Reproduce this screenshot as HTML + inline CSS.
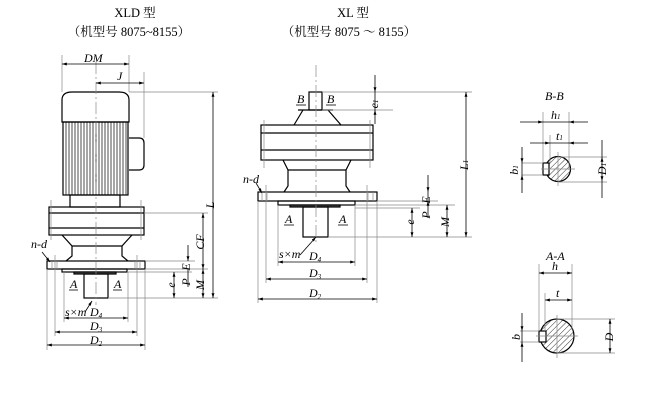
<!DOCTYPE html>
<html><head><meta charset="utf-8"><style>
body{margin:0;background:#fff}
svg{display:block}
text{font-family:"Liberation Serif","Noto Serif CJK SC",serif;fill:#000}
.i{font-style:italic;font-size:12px}
</style></head><body>
<svg width="650" height="412" viewBox="0 0 650 412" xmlns="http://www.w3.org/2000/svg">
<defs>
<marker id="a" viewBox="0 0 10 10" refX="10" refY="5" markerWidth="6" markerHeight="6" orient="auto-start-reverse"><path d="M0,2 L10,5 L0,8z" fill="#000"/></marker>
<pattern id="h" width="4" height="4" patternUnits="userSpaceOnUse" patternTransform="rotate(45)"><line x1="0" y1="0" x2="0" y2="4" stroke="#000" stroke-width="0.8"/></pattern>
</defs>
<g font-size="12.5">
<text x="135" y="17" text-anchor="middle">XLD 型</text>
<text x="129" y="36" text-anchor="middle">（机型号 8075~8155）</text>
<text x="353" y="17" text-anchor="middle">XL 型</text>
<text x="349" y="36" text-anchor="middle">（机型号 8075 ～ 8155）</text>
</g>

<!-- LEFT XLD -->
<g fill="none" stroke="#000" stroke-width="1.2">
<path d="M62,122 L62,100 Q62,92 72,92 L119,92 Q129,92 129,100 L129,122 Z"/>
<rect x="63" y="122" width="65" height="73"/>
<path d="M129,138 L139,138 Q144,138 144,143 L144,165 Q144,170 139,170 L129,170"/>
<rect x="70" y="195" width="50" height="12"/>
<rect x="49" y="207" width="95" height="28"/>
<line x1="49" y1="213" x2="144" y2="213"/><line x1="49" y1="228" x2="144" y2="228"/>
<path d="M62,235 L72,246 L72,256 L66,261 M132,235 L122,246 L122,256 L128,261"/>
<line x1="72" y1="246" x2="122" y2="246"/>
<rect x="47" y="261" width="98" height="8"/>
<rect x="62" y="269" width="65" height="3"/>
<rect x="74" y="272" width="42" height="2" fill="#555"/>
<rect x="84" y="274" width="24" height="24"/>
</g>
<g stroke="#000" stroke-width="0.7">
<path d="M66,122V195M69,122V195M72,122V195M75,122V195M78,122V195M81,122V195M84,122V195M87,122V195M90,122V195M93,122V195M96,122V195M99,122V195M102,122V195M105,122V195M108,122V195M111,122V195M114,122V195M117,122V195M120,122V195M123,122V195M126,122V195"/>
</g>
<g stroke="#888" stroke-width="0.7" fill="none">
<line x1="96" y1="62" x2="96" y2="305" stroke-dasharray="12,3,2,3"/>
<line x1="62" y1="55" x2="62" y2="92"/><line x1="129" y1="55" x2="129" y2="92"/>
<line x1="144" y1="72" x2="144" y2="138"/>
<line x1="129" y1="92" x2="218" y2="92"/>
<line x1="144" y1="213" x2="208" y2="213"/>
<line x1="145" y1="261" x2="195" y2="261"/>
<line x1="145" y1="269" x2="208" y2="269"/>
<line x1="127" y1="272" x2="192" y2="272"/>
<line x1="108" y1="298" x2="218" y2="298"/>
<line x1="64" y1="272" x2="64" y2="322"/><line x1="128" y1="272" x2="128" y2="322"/>
<line x1="55" y1="255" x2="55" y2="336"/><line x1="137" y1="255" x2="137" y2="336"/>
<line x1="47" y1="269" x2="47" y2="350"/><line x1="145" y1="269" x2="145" y2="350"/>
<line x1="52" y1="261" x2="52" y2="269"/><line x1="57" y1="261" x2="57" y2="269"/>
<line x1="135" y1="261" x2="135" y2="269"/><line x1="140" y1="261" x2="140" y2="269"/>
<line x1="51" y1="200" x2="51" y2="240"/><line x1="141" y1="200" x2="141" y2="240"/>
</g>
<g stroke="#000" stroke-width="0.8" fill="none" marker-start="url(#a)" marker-end="url(#a)">
<line x1="62" y1="64" x2="129" y2="64"/>
<line x1="96" y1="83" x2="144" y2="83"/>
<line x1="213" y1="92" x2="213" y2="298"/>
<line x1="203" y1="213" x2="203" y2="269"/>
<line x1="203" y1="269" x2="203" y2="298"/>
<line x1="174" y1="272" x2="174" y2="298"/>
<line x1="64" y1="318" x2="128" y2="318"/>
<line x1="55" y1="332" x2="137" y2="332"/>
<line x1="47" y1="345" x2="145" y2="345"/>
</g>
<g stroke="#000" stroke-width="0.8">
<line x1="188" y1="245" x2="188" y2="261" marker-end="url(#a)"/>
<line x1="188" y1="272" x2="188" y2="287"/>
<line x1="188" y1="269" x2="188" y2="272"/>
<line x1="92" y1="301" x2="85" y2="312" marker-start="url(#a)"/>
<line x1="42" y1="252" x2="50" y2="262" marker-end="url(#a)"/>
</g>
<g class="i">
<text x="84" y="62">DM</text><text x="117" y="80">J</text>
<text x="214" y="205" transform="rotate(-90 214 205)" text-anchor="middle">L</text>
<text x="204" y="242" transform="rotate(-90 204 242)" text-anchor="middle">CF</text>
<text x="190" y="267" transform="rotate(-90 190 267)" text-anchor="middle">E</text>
<text x="190" y="282" transform="rotate(-90 190 282)" text-anchor="middle">P</text>
<text x="204" y="285" transform="rotate(-90 204 285)" text-anchor="middle">M</text>
<text x="175" y="285" transform="rotate(-90 175 285)" text-anchor="middle">e</text>
<text x="31" y="248">n-d</text>
<text x="70" y="288">A</text><text x="114" y="288">A</text>
<text x="65" y="316">s×m</text><text x="90" y="316">D<tspan font-size="7" dy="2">4</tspan></text>
<text x="90" y="330">D<tspan font-size="7" dy="2">3</tspan></text>
<text x="90" y="344">D<tspan font-size="7" dy="2">2</tspan></text>
</g>
<g stroke="#000" stroke-width="0.8"><line x1="69" y1="290" x2="78" y2="290"/><line x1="113" y1="290" x2="122" y2="290"/></g>

<!-- MIDDLE XL -->
<g fill="none" stroke="#000" stroke-width="1.2">
<rect x="309" y="92" width="13" height="18"/>
<path d="M303,110 L294,125 M328,110 L341,125 M298,110 L333,110"/>
<rect x="261" y="125" width="112" height="35"/>
<line x1="261" y1="133" x2="373" y2="133"/><line x1="261" y1="150" x2="373" y2="150"/>
<path d="M283,160 L288,170 L288,186 L284,192 M351,160 L346,170 L346,186 L350,192"/>
<line x1="288" y1="170" x2="346" y2="170"/>
<rect x="258" y="192" width="119" height="9"/>
<rect x="278" y="201" width="77" height="4"/>
<rect x="290" y="205" width="50" height="2" fill="#555"/>
<rect x="303" y="207" width="25" height="30"/>
</g>
<g stroke="#888" stroke-width="0.7" fill="none">
<line x1="316" y1="65" x2="316" y2="245" stroke-dasharray="12,3,2,3"/>
<line x1="322" y1="92" x2="472" y2="92"/>
<line x1="322" y1="110" x2="393" y2="110"/>
<line x1="377" y1="201" x2="438" y2="201"/>
<line x1="355" y1="205" x2="455" y2="205"/>
<line x1="355" y1="208" x2="420" y2="208"/>
<line x1="328" y1="237" x2="472" y2="237"/>
<line x1="278" y1="205" x2="278" y2="266"/><line x1="355" y1="205" x2="355" y2="266"/>
<line x1="266" y1="185" x2="266" y2="283"/><line x1="367" y1="185" x2="367" y2="283"/>
<line x1="258" y1="201" x2="258" y2="303"/><line x1="377" y1="201" x2="377" y2="303"/>
<line x1="264" y1="120" x2="264" y2="168"/><line x1="370" y1="120" x2="370" y2="168"/>
<line x1="262" y1="192" x2="262" y2="201"/><line x1="267" y1="192" x2="267" y2="201"/>
<line x1="368" y1="192" x2="368" y2="201"/><line x1="373" y1="192" x2="373" y2="201"/>
</g>
<g stroke="#000" stroke-width="0.8" fill="none" marker-start="url(#a)" marker-end="url(#a)">
<line x1="466" y1="92" x2="466" y2="237"/>
<line x1="447" y1="205" x2="447" y2="237"/>
<line x1="412" y1="208" x2="412" y2="237"/>
<line x1="278" y1="262" x2="355" y2="262"/>
<line x1="266" y1="279" x2="367" y2="279"/>
<line x1="258" y1="299" x2="377" y2="299"/>
</g>
<g stroke="#000" stroke-width="0.8">
<line x1="375" y1="75" x2="375" y2="92" marker-end="url(#a)"/>
<line x1="375" y1="110" x2="375" y2="124" marker-start="url(#a)"/>
<line x1="375" y1="92" x2="375" y2="110"/>
<line x1="428" y1="175" x2="428" y2="192" marker-end="url(#a)"/>
<line x1="428" y1="201" x2="428" y2="218" marker-start="url(#a)"/>
<line x1="428" y1="192" x2="428" y2="201"/>
<line x1="316" y1="237" x2="300" y2="255" marker-start="url(#a)"/>
<line x1="256" y1="183" x2="262" y2="193" marker-end="url(#a)"/>
<line x1="296" y1="105" x2="306" y2="105"/><line x1="326" y1="105" x2="336" y2="105"/>
<line x1="284" y1="225" x2="294" y2="225"/><line x1="338" y1="225" x2="348" y2="225"/>
</g>
<g class="i">
<text x="297" y="103">B</text><text x="327" y="103">B</text>
<text x="378" y="104" transform="rotate(-90 378 104)" text-anchor="middle">e<tspan font-size="7">1</tspan></text>
<text x="468" y="165" transform="rotate(-90 468 165)" text-anchor="middle">L<tspan font-size="7">1</tspan></text>
<text x="430" y="200" transform="rotate(-90 430 200)" text-anchor="middle">E</text>
<text x="430" y="215" transform="rotate(-90 430 215)" text-anchor="middle">P</text>
<text x="449" y="222" transform="rotate(-90 449 222)" text-anchor="middle">M</text>
<text x="414" y="222" transform="rotate(-90 414 222)" text-anchor="middle">e</text>
<text x="243" y="183">n-d</text>
<text x="285" y="223">A</text><text x="339" y="223">A</text>
<text x="279" y="258">s×m</text><text x="309" y="260">D<tspan font-size="7" dy="2">4</tspan></text>
<text x="309" y="277">D<tspan font-size="7" dy="2">3</tspan></text>
<text x="309" y="297">D<tspan font-size="7" dy="2">2</tspan></text>
</g>

<!-- RIGHT SECTIONS -->
<g class="i">
<text x="545" y="100">B-B</text>
<text x="551" y="119">h<tspan font-size="7">1</tspan></text>
<text x="556" y="140">t<tspan font-size="7">1</tspan></text>
<text x="518" y="170" transform="rotate(-90 518 170)" text-anchor="middle">b<tspan font-size="7">1</tspan></text>
<text x="606" y="169" transform="rotate(-90 606 169)" text-anchor="middle">D<tspan font-size="7">1</tspan></text>
<text x="546" y="260">A-A</text>
<text x="552" y="270">h</text>
<text x="556" y="297">t</text>
<text x="520" y="337" transform="rotate(-90 520 337)" text-anchor="middle">b</text>
<text x="613" y="337" transform="rotate(-90 613 337)" text-anchor="middle">D</text>
</g>
<g stroke="#000" stroke-width="1.2">
<circle cx="558" cy="169" r="12.5" fill="url(#h)"/>
<rect x="543" y="163" width="6" height="12" fill="#fff"/>
<circle cx="557" cy="336" r="17" fill="url(#h)"/>
<rect x="539" y="331" width="7" height="11" fill="#fff"/>
</g>
<g stroke="#888" stroke-width="0.7">
<line x1="543" y1="112" x2="543" y2="163"/><line x1="569" y1="112" x2="569" y2="170"/>
<line x1="550" y1="135" x2="550" y2="163"/>
<line x1="558" y1="152" x2="558" y2="186"/><line x1="541" y1="169" x2="575" y2="169"/>
<line x1="522" y1="163" x2="543" y2="163"/><line x1="522" y1="175" x2="543" y2="175"/>
<line x1="558" y1="157" x2="607" y2="157"/><line x1="558" y1="182" x2="607" y2="182"/>
<line x1="539" y1="264" x2="539" y2="331"/><line x1="572" y1="264" x2="572" y2="330"/>
<line x1="545" y1="293" x2="545" y2="331"/>
<line x1="557" y1="315" x2="557" y2="358"/><line x1="536" y1="336" x2="578" y2="336"/>
<line x1="520" y1="331" x2="539" y2="331"/><line x1="520" y1="342" x2="539" y2="342"/>
<line x1="557" y1="319" x2="615" y2="319"/><line x1="557" y1="353" x2="615" y2="353"/>
</g>
<g stroke="#000" stroke-width="0.8">
<line x1="520" y1="122" x2="543" y2="122" marker-end="url(#a)"/><line x1="569" y1="122" x2="588" y2="122" marker-start="url(#a)"/><line x1="543" y1="122" x2="569" y2="122"/>
<line x1="530" y1="143" x2="550" y2="143" marker-end="url(#a)"/><line x1="569" y1="143" x2="588" y2="143" marker-start="url(#a)"/><line x1="550" y1="143" x2="569" y2="143"/>
<line x1="522" y1="147" x2="522" y2="163" marker-end="url(#a)"/><line x1="522" y1="175" x2="522" y2="193" marker-start="url(#a)"/><line x1="522" y1="163" x2="522" y2="175"/>
<line x1="602" y1="157" x2="602" y2="181" marker-start="url(#a)" marker-end="url(#a)"/>
<line x1="602" y1="140" x2="602" y2="157"/><line x1="602" y1="181" x2="602" y2="198"/>
<line x1="539" y1="273" x2="572" y2="273" marker-start="url(#a)" marker-end="url(#a)"/>
<line x1="545" y1="300" x2="572" y2="300" marker-start="url(#a)" marker-end="url(#a)"/>
<line x1="522" y1="313" x2="522" y2="331" marker-end="url(#a)"/><line x1="522" y1="342" x2="522" y2="362" marker-start="url(#a)"/><line x1="522" y1="331" x2="522" y2="342"/>
<line x1="610" y1="319" x2="610" y2="353" marker-start="url(#a)" marker-end="url(#a)"/>
</g>
</svg>
</body></html>
